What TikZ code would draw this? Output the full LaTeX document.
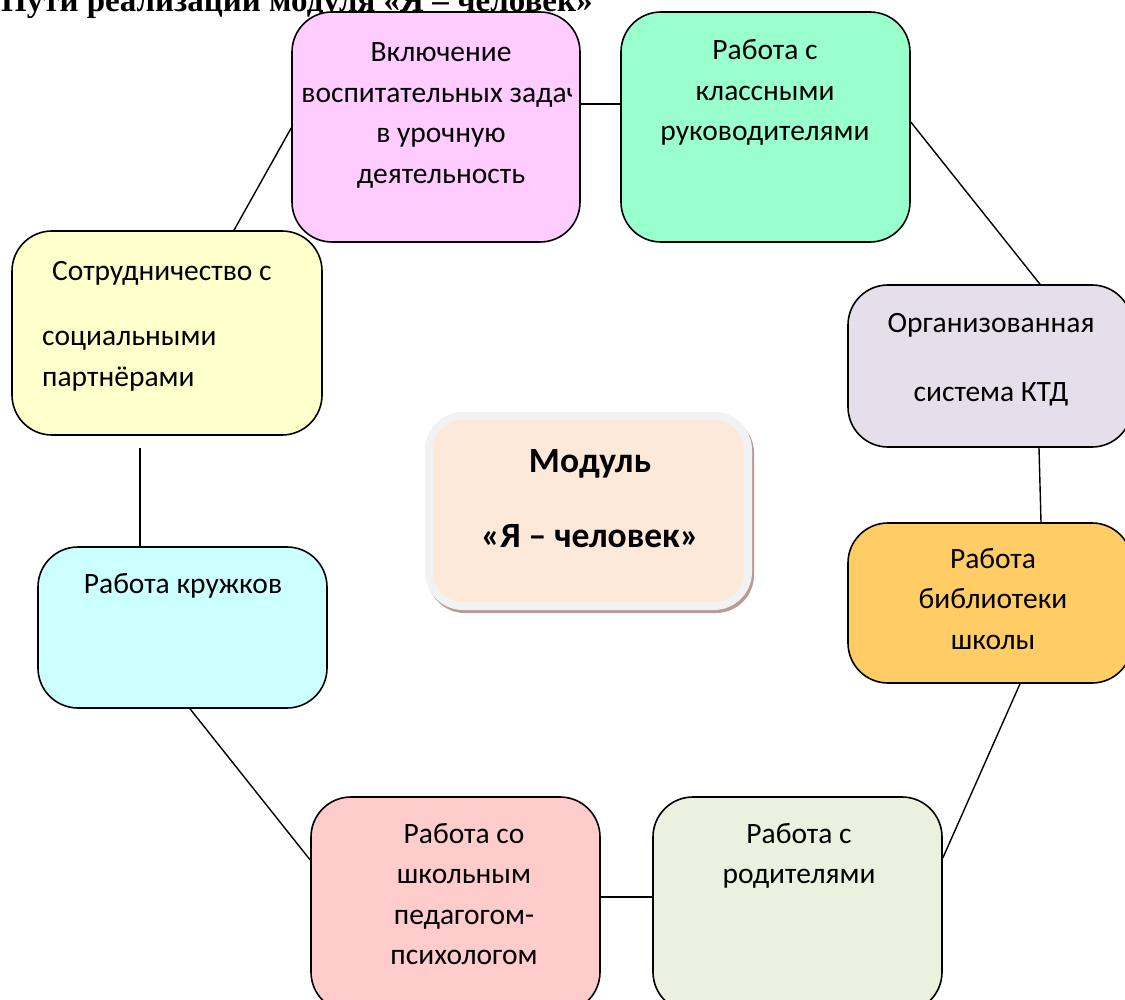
\documentclass[tikz,border=0pt]{standalone}
\usepackage{fontspec}
\setmainfont{Carlito}
\newfontfamily\titlefont{Liberation Serif}
\usetikzlibrary{positioning}

\definecolor{inclfill}{HTML}{FFCCFF}
\definecolor{klassfill}{HTML}{99FFCC}
\definecolor{sotrfill}{HTML}{FFFFCC}
\definecolor{ktdfill}{HTML}{E5DFEC}
\definecolor{biblfill}{HTML}{FFCC66}
\definecolor{kruzhfill}{HTML}{CCFFFF}
\definecolor{psychfill}{HTML}{FFCCCC}
\definecolor{roditfill}{HTML}{EBF1DE}
\definecolor{modfill}{HTML}{FDE9D9}
\definecolor{modframe}{HTML}{F2F2F2}
\definecolor{modshadow}{HTML}{B89A9A}

\begin{document}
\begin{tikzpicture}[
  x=1pt,y=-1pt,
  box/.style={draw,line width=1.6pt,rounded corners=40pt,inner sep=0pt},
  txt/.style={align=center,inner sep=0pt,font=\fontsize{29.5}{40.5}\selectfont},
  link/.style={line width=1.4pt}
]
\useasboundingbox (0,0) rectangle (1125,1000);
\clip (0,0) rectangle (1125,1000);

% heading, cut at the top edge
\node[anchor=base west,inner sep=0pt,font=\titlefont\bfseries\fontsize{33}{40}\selectfont] (title) at (1,12) {Пути реализации модуля «Я – человек»};

% boxes round the module
\node[box,fill=inclfill,minimum width=288pt,minimum height=230pt] (incl) at (436,127) {};
\node[box,fill=klassfill,minimum width=289pt,minimum height=230pt] (klass) at (765.5,127) {};
\node[box,fill=sotrfill,minimum width=310pt,minimum height=204pt] (sotr) at (167,333) {};
\node[box,fill=ktdfill,minimum width=284pt,minimum height=162pt] (ktd) at (990,366) {};
\node[box,fill=biblfill,minimum width=284pt,minimum height=160pt] (bibl) at (990,603) {};
\node[box,fill=kruzhfill,minimum width=289pt,minimum height=161pt] (kruzh) at (182.5,627.5) {};
\node[box,fill=psychfill,minimum width=289pt,minimum height=215pt] (psych) at (455.5,904.5) {};
\node[box,fill=roditfill,minimum width=289pt,minimum height=215pt] (rodit) at (797.5,904.5) {};

% texts (anchored at the baseline of the last line)
\begin{scope}
  \clip (incl.north west) rectangle ([xshift=-9pt]incl.south east);
  \node[txt,anchor=base] (inclt) at (441,183.5) {Включение\\воспитательных задач\\в урочную\\деятельность};
\end{scope}
\node[txt,anchor=base] (klasst) at (765,141) {Работа с\\классными\\руководителями};
\node[txt,anchor=base west,align=left] (sotrt) at (42,386.5) {\hspace*{10pt}Сотрудничество с\\[25.5pt]социальными\\партнёрами};
\node[txt,anchor=base] (ktdt) at (991,402) {Организованная\\[29.5pt]система КТД};
\node[txt,anchor=base] (biblt) at (993,649) {Работа\\библиотеки\\школы};
\node[txt,anchor=base] (kruzht) at (183,593) {Работа кружков};
\node[txt,anchor=base] (psycht) at (464,964.5) {Работа со\\школьным\\педагогом-\\психологом};
\node[txt,anchor=base] (roditt) at (799,883.5) {Работа с\\родителями};

% centre
\node[draw=modframe,line width=8pt,fill=modfill,rounded corners=34pt,minimum width=319pt,minimum height=190pt,
  preaction={draw=modshadow,line width=8pt,transform canvas={xshift=2pt,yshift=-3pt}}] (module) at (588.5,511) {};
\node[txt,anchor=base,font=\bfseries\fontsize{35.5}{40}\selectfont] (modt) at (590,547) {Модуль\\[35pt]«Я – человек»};

% links
\draw[link] ([yshift=23pt]incl.east) -- ([yshift=23pt]klass.west);
\draw[link] ([yshift=5pt]klass.east) -- ([xshift=50pt]ktd.north);
\draw[link] ([xshift=49pt]ktd.south) -- ([xshift=51pt]bibl.north);
\draw[link] ([xshift=30pt]bibl.south) -- ([yshift=46.5pt]rodit.east);
\draw[link] ([yshift=7.5pt]rodit.west) -- ([yshift=7.5pt]psych.east);
\draw[link] ([yshift=44.5pt]psych.west) -- ([xshift=7.5pt]kruzh.south);
\draw[link] ([xshift=-42.5pt]kruzh.north) -- ([xshift=-27pt,yshift=-12pt]sotr.south);
\draw[link] ([xshift=67pt]sotr.north) -- ([yshift=-1pt]incl.west);
\end{tikzpicture}
\end{document}
